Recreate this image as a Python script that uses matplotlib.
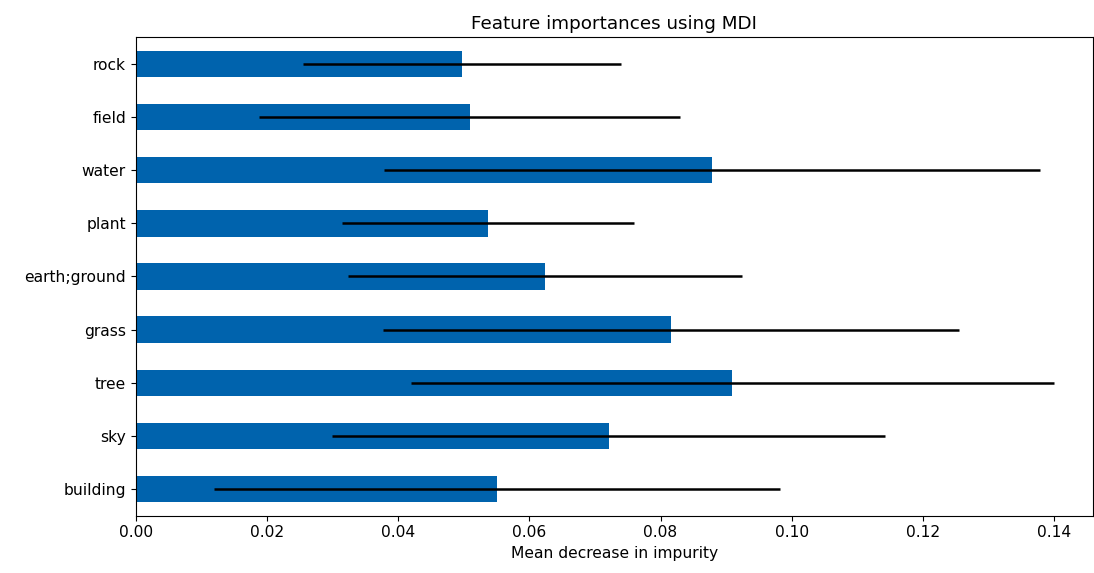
import numpy as np
import matplotlib
matplotlib.use("Agg")
import matplotlib.pyplot as plt

features = ["building", "sky", "tree", "grass", "earth;ground", "plant", "water", "field", "rock"]
importances = [0.0551, 0.0721, 0.0909, 0.0816, 0.0624, 0.0537, 0.0878, 0.0509, 0.0497]
std = [0.0431, 0.0421, 0.0490, 0.0439, 0.0300, 0.0222, 0.0500, 0.0321, 0.0242]

plt.rcParams['font.size'] = 11.2
fig, ax = plt.subplots(figsize=(10.94, 5.73), dpi=100)
y = np.arange(len(features))
ax.barh(y, importances, height=0.5, color="#0063ad")
ax.errorbar(importances, y, xerr=std, fmt="none", ecolor="black", elinewidth=1.8, capsize=0)
ax.set_yticks(y)
ax.set_yticklabels(features)
ax.set_ylim(-0.5, len(features) - 0.5)
ax.set_xlim(0, 0.1459)
ax.set_xticks(np.arange(0, 0.141, 0.02))
ax.set_title("Feature importances using MDI", fontsize=13.2)
ax.set_xlabel("Mean decrease in impurity")
fig.subplots_adjust(left=0.124, right=0.999, top=0.935, bottom=0.1)
fig.savefig("out.png")
